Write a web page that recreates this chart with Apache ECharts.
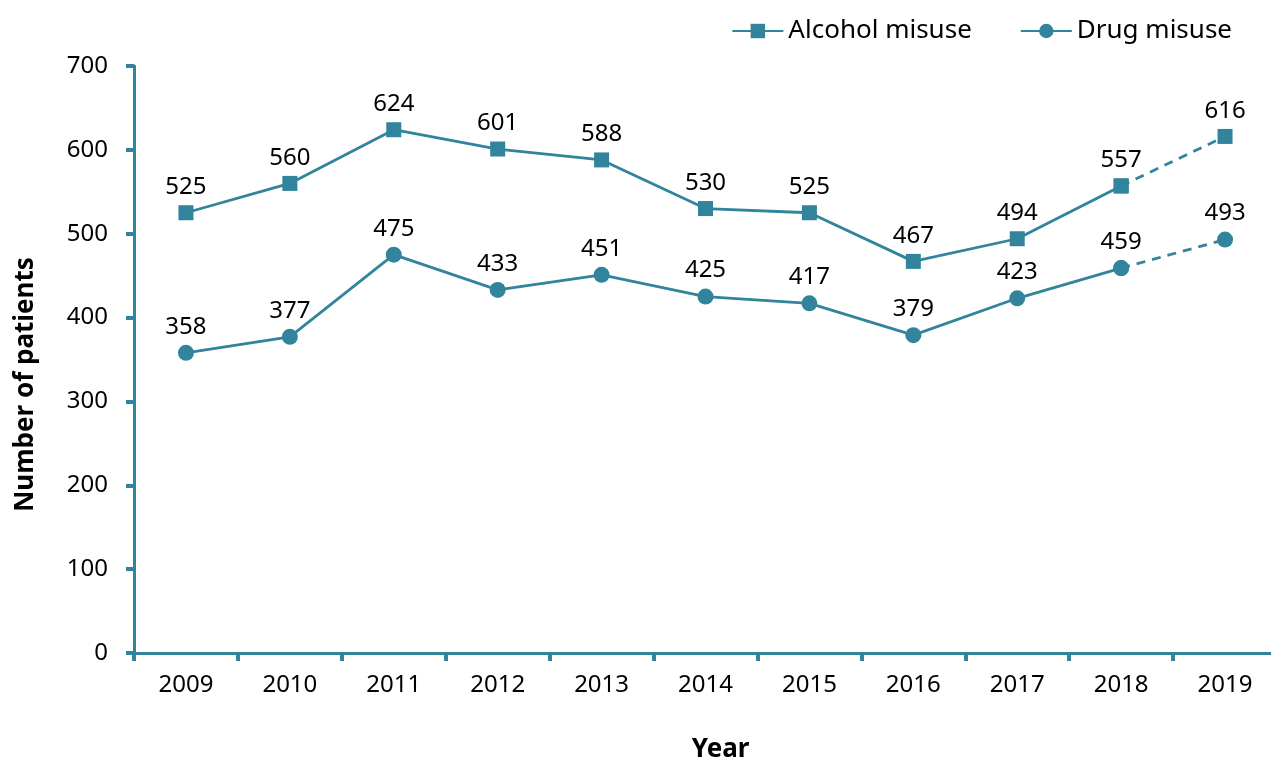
<!DOCTYPE html>
<html>
<head>
<meta charset="utf-8">
<script src="https://cdn.jsdelivr.net/npm/echarts@6/dist/echarts.min.js"></script>
<style>
  html, body { margin: 0; padding: 0; background: #fff; }
  #patients-chart { width: 1271px; height: 760px; }
</style>
</head>
<body>
<div id="patients-chart"></div>
<script>
const years = ['2009', '2010', '2011', '2012', '2013', '2014', '2015', '2016', '2017', '2018', '2019']
const alcoholMisuse = [525, 560, 624, 601, 588, 530, 525, 467, 494, 557, 616]
const drugMisuse = [358, 377, 475, 433, 451, 425, 417, 379, 423, 459, 493]
const yTicks = [0, 100, 200, 300, 400, 500, 600, 700]

const teal = '#31849b'
const font = 'Noto Sans'

// solid part runs up to 2018, the 2018 -> 2019 step is dashed
const solidPart = arr => arr.map((v, i) => i < arr.length - 1 ? v : '-')
const dashedPart = arr => arr.map((v, i) => i >= arr.length - 2 ? v : '-')

const labelStyle = {
  show: true,
  position: 'top',
  distance: 6,
  color: '#000',
  fontFamily: font,
  fontSize: 24
}

function makeSeries(name, symbol, values) {
  return [
    {
      name: name,
      type: 'line',
      data: solidPart(values),
      symbol: symbol,
      symbolSize: symbol === 'rect' ? 15 : 16,
      itemStyle: { color: teal },
      lineStyle: { color: teal, width: 2.8 },
      label: labelStyle,
      z: 3
    },
    {
      name: name + ' (dashed)',
      type: 'line',
      data: dashedPart(values),
      symbol: symbol,
      symbolSize: symbol === 'rect' ? 15 : 16,
      itemStyle: { color: teal },
      lineStyle: { color: teal, width: 2.8, type: [9, 7] },
      label: Object.assign({}, labelStyle, {
        formatter: p => p.dataIndex === values.length - 1 ? p.value : ''
      }),
      z: 2
    }
  ]
}

const chart = echarts.init(document.getElementById('patients-chart'))
chart.setOption({
  animation: false,
  textStyle: { fontFamily: font },
  legend: {
    data: ['Alcohol misuse', 'Drug misuse'],
    top: 13,
    right: 34,
    itemWidth: 51,
    itemHeight: 18,
    itemGap: 48,
    textStyle: { color: '#000', fontSize: 26, fontFamily: font }
  },
  grid: {
    left: 134,
    top: 66,
    width: 1143,
    height: 587,
    outerBoundsMode: 'none'
  },
  xAxis: {
    type: 'category',
    data: years,
    boundaryGap: true,
    name: 'Year',
    nameLocation: 'middle',
    nameGap: 84,
    nameTextStyle: { color: '#000', fontSize: 26, fontWeight: 'bold', fontFamily: font, padding: [0, 0, 0, 30] },
    axisLine: { lineStyle: { color: teal, width: 3 } },
    axisTick: { show: true, length: 8, lineStyle: { color: teal, width: 4 } },
    axisLabel: { color: '#000', fontSize: 24, fontFamily: font, margin: 20 },
    splitLine: { show: false }
  },
  yAxis: {
    type: 'value',
    min: yTicks[0],
    max: yTicks[yTicks.length - 1],
    interval: 100,
    name: 'Number of patients',
    nameLocation: 'middle',
    nameGap: 95,
    nameTextStyle: { color: '#000', fontSize: 26, fontWeight: 'bold', fontFamily: font, padding: [0, 50, 0, 0] },
    axisLine: { show: true, lineStyle: { color: teal, width: 3 } },
    axisTick: { show: true, length: 8, lineStyle: { color: teal, width: 4 } },
    axisLabel: { color: '#000', fontSize: 24, fontFamily: font, margin: 26 },
    splitLine: { show: false }
  },
  series: [
    ...makeSeries('Alcohol misuse', 'rect', alcoholMisuse),
    ...makeSeries('Drug misuse', 'circle', drugMisuse)
  ]
})
</script>
</body>
</html>
